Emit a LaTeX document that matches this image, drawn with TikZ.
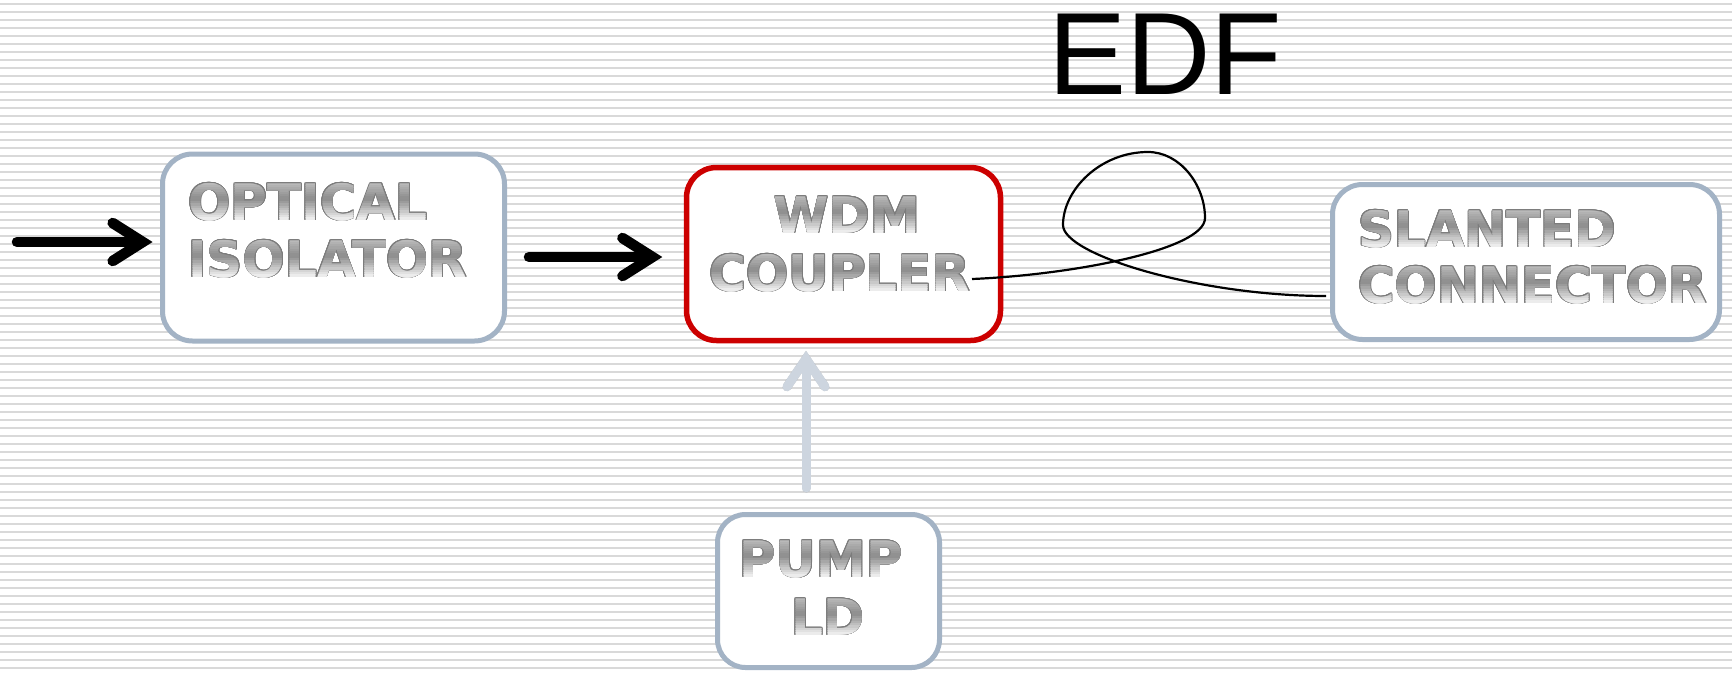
\documentclass[tikz,border=0pt]{standalone}
\usepackage{fontspec}
\usepackage{contour}
\usetikzlibrary{arrows.meta,calc}

\newfontfamily\labelfont{DejaVu Sans}
\newfontfamily\titlefont{Liberation Sans}

\definecolor{stripe}{HTML}{D9D9D9}
\definecolor{boxline}{HTML}{A3B3C5}
\definecolor{wdmred}{HTML}{CC0000}
\definecolor{pumpblue}{HTML}{CDD5DF}
\definecolor{mtlline}{HTML}{7C7C7C}
\definecolor{mtlTop}{HTML}{BCBCBC}
\definecolor{mtlMid}{HTML}{8C8C8C}
\definecolor{mtlBot}{HTML}{F2F2F2}

\contourlength{0.8pt}

\tikzset{
  block/.style={draw=boxline, line width=5pt, rounded corners=30pt,
    fill=white, inner sep=0pt},
  mtext/.style={font=\labelfont\bfseries\fontsize{50}{60}\selectfont,
    inner sep=0pt},
  beam/.style={line width=10.5pt, line cap=round,
    -{Straight Barb[length=30pt,width=38pt,line cap=round,line join=miter]}},
  pumpbeam/.style={draw=pumpblue, line width=9pt, line cap=round,
    -{Straight Barb[length=28pt,width=38pt,line cap=round,line join=miter]}},
  beamshadow/.style={draw=black, opacity=0.14, xshift=2pt, yshift=-2pt},
  beamhalo/.style={draw=black, opacity=0.07, xshift=3.5pt, yshift=-3.5pt},
  fibre/.style={line width=2.2pt},
}

% Metallic label: outline drawn once, fill redrawn in thin horizontal bands
\newcommand\metal[4]{%
  \node[mtext, anchor=#2, text=mtlMid] (#1) at #3 {\contour{mtlline}{#4}};
  \foreach \k in {0,...,15}{%
    \pgfmathsetmacro\tpos{(\k+0.5)/16}%
    \pgfmathsetmacro\mix{\tpos<0.45 ? 100*\tpos/0.45 : 100*(\tpos-0.45)/0.55}%
    \ifdim\tpos pt<0.45pt \colorlet{bandc}{mtlMid!\mix!mtlTop}%
    \else \colorlet{bandc}{mtlBot!\mix!mtlMid}\fi
    \begin{scope}
      \clip ($(#1.base west)+(-12,-37+2.3125*\k)$) rectangle
            ($(#1.base east)+(12,-34.6875+2.3125*\k)$);
      \node[mtext, anchor=#2, text=bandc] (#1-\k) at #3 {#4};
    \end{scope}
  }%
  \begin{scope}
    \clip ($(#1.base west)+(-12,-60)$) rectangle ($(#1.base east)+(12,-37)$);
    \node[mtext, anchor=#2, text=mtlTop] (#1-top) at #3 {#4};
  \end{scope}
  \begin{scope}
    \clip ($(#1.base west)+(-12,0)$) rectangle ($(#1.base east)+(12,15)$);
    \node[mtext, anchor=#2, text=mtlBot] (#1-low) at #3 {#4};
  \end{scope}
}

\begin{document}
\begin{tikzpicture}[x=1pt, y=-1pt]
  \useasboundingbox (0,0) rectangle (1732,673);

  % ruled background
  \foreach \i in {0,...,83}
    \draw[stripe, line width=2pt] (0,4+8*\i) -- (1732,4+8*\i);

  % blocks
  \node[block, minimum width=342pt, minimum height=187pt] (iso) at (333.5,247.5) {};
  \node[block, draw=wdmred, line width=5.5pt, minimum width=314pt, minimum height=173pt] (wdm) at (843.5,254) {};
  \node[block, rounded corners=28pt, minimum width=222pt, minimum height=153pt] (pump) at (828.5,591) {};
  \node[block, minimum width=387pt, minimum height=155pt] (conn) at (1526,262) {};

  % labels
  \metal{isoA}{base west}{(188,220)}{OPTICAL}
  \metal{isoB}{base west}{(188,277)}{ISOLATOR}
  \metal{wdmA}{base}{(847,233)}{WDM}
  \metal{wdmB}{base}{(840,291)}{COUPLER}
  \metal{pumpA}{base}{(821,577)}{PUMP}
  \metal{pumpB}{base}{(828,635)}{LD}
  \metal{connA}{base west}{(1358,247)}{SLANTED}
  \metal{connB}{base west}{(1358,303)}{CONNECTOR}

  \node[font=\titlefont\fontsize{117}{120}\selectfont, inner sep=0pt,
        anchor=base west] (edf) at (1048,94) {EDF};

  % signal path arrows (soft shadow first, then the arrow itself)
  \coordinate (rowA) at (0,242);
  \coordinate (rowB) at (0,257);
  \coordinate (inA) at (17,242);
  \foreach \s in {beamhalo,beamshadow,}{
    \draw[beam, \s, shorten >=7.5pt] (inA) -- (iso.west |- rowA);
    \draw[beam, \s, shorten <=22pt, shorten >=21.5pt] (iso.east |- rowB) -- (wdm.west |- rowB);
  }

  % pump arrow
  \coordinate (pcol) at (806,0);
  \foreach \s in {beamhalo,beamshadow,}{
    \draw[pumpbeam, \s, shorten <=24pt] (pump.north -| pcol) -- ($(wdm.south -| pcol)+(0,7.5)$);
  }

  % erbium-doped fibre coil
  \coordinate (fs) at (972,279);
  \draw[fibre] (fs) .. controls (1070,275) and (1205,250) .. (1205,218)
    .. controls (1205,185) and (1180,152) .. (1148,152)
    .. controls (1100,152) and (1063,190) .. (1063,225)
    .. controls (1063,255) and (1200,296) .. ($(conn.west)+(-4,34)$);
\end{tikzpicture}
\end{document}
